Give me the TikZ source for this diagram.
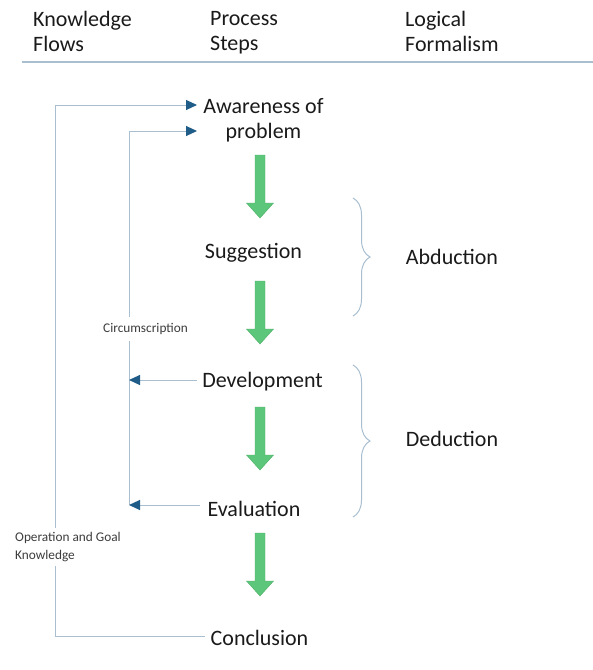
\documentclass[tikz,border=0pt]{standalone}
\usepackage{fontspec}
\setmainfont{Carlito}
\usetikzlibrary{arrows.meta,decorations.pathreplacing}
\definecolor{flowline}{HTML}{A9BFCF}
\definecolor{tipblue}{HTML}{1F5C87}
\definecolor{stepgreen}{HTML}{5CC67A}
\definecolor{stepedge}{HTML}{4DAF68}
\definecolor{txt}{HTML}{1A1A1A}
\tikzset{
  header/.style={font=\fontsize{22}{25}\selectfont, text=txt, anchor=north west, align=left, inner sep=0pt},
  stepnode/.style={font=\fontsize{22}{25}\selectfont, text=txt, align=center, inner sep=1pt},
  smalllabel/.style={font=\fontsize{13.3}{18}\selectfont, text=txt!85, align=left, inner sep=0pt},
  logic/.style={font=\fontsize{22}{25}\selectfont, text=txt, inner sep=0pt},
  flow/.style={draw=flowline, line width=1pt},
  flowarrow/.style={flow, -{Triangle[length=11pt,width=10pt,color=tipblue]}},
  bracket/.style={draw=flowline, line width=1pt, decorate, decoration={brace, amplitude=17pt}},
  greenarrow/.style={fill=stepgreen, draw=stepedge, line width=0.4pt}
}
\newcommand{\stepdownarrow}[2]{%
  \path[greenarrow] (#1-5,#2) -- (#1+5,#2) -- (#1+5,#2+48) -- (#1+13.5,#2+48)
    -- (#1,#2+63) -- (#1-13.5,#2+48) -- (#1-5,#2+48) -- cycle;}
\begin{document}
\begin{tikzpicture}[x=1pt,y=-1pt]
\useasboundingbox (0,0) rectangle (593,670);

% column headers
\node[header] (hk) at (33,11) {Knowledge\\Flows};
\node[header] (hp) at (210,11) {Process\\Steps};
\node[header] (hl) at (405,11) {Logical\\Formalism};
\draw[flowline, line width=1.2pt] (22,62) -- (593,62);

% process steps
\node[stepnode] (aware) at (263.5,120) {Awareness of\\problem};
\node[stepnode] (sugg) at (253.5,253) {Suggestion};
\node[stepnode] (devel) at (262.5,382) {Development};
\node[stepnode] (eval) at (254,509) {Evaluation};
\node[stepnode] (concl) at (259.5,638) {Conclusion};

% green step arrows
\stepdownarrow{260}{155}
\stepdownarrow{260}{281}
\stepdownarrow{260}{407}
\stepdownarrow{260}{533}

% logical formalism
\draw[bracket] (353,198) -- (353,316);
\draw[bracket] (353,365) -- (353,517);
\node[logic] (abd) at (452,257) {Abduction};
\node[logic] (ded) at (452,439) {Deduction};

% operation and goal knowledge loop
\node[smalllabel, anchor=west] (opgoal) at (15,547) {Operation and Goal\\Knowledge};
\coordinate (aw1) at (197,105);
\coordinate (cl) at (205,636);
\draw[flow] (cl) -| (55,566);
\draw[flowarrow] (55,528) |- (aw1);

% circumscription loop
\node[smalllabel] (circ) at (145.5,329) {Circumscription};
\coordinate (aw2) at (197,131);
\coordinate (cs) at (129,505);
\draw[flowarrow] (129,317) |- (aw2);
\draw[flow] (129,341) -- (cs);
\draw[flowarrow] (197,380) -- (129,380);
\draw[flowarrow] (200,505) -- (cs);
\end{tikzpicture}
\end{document}
